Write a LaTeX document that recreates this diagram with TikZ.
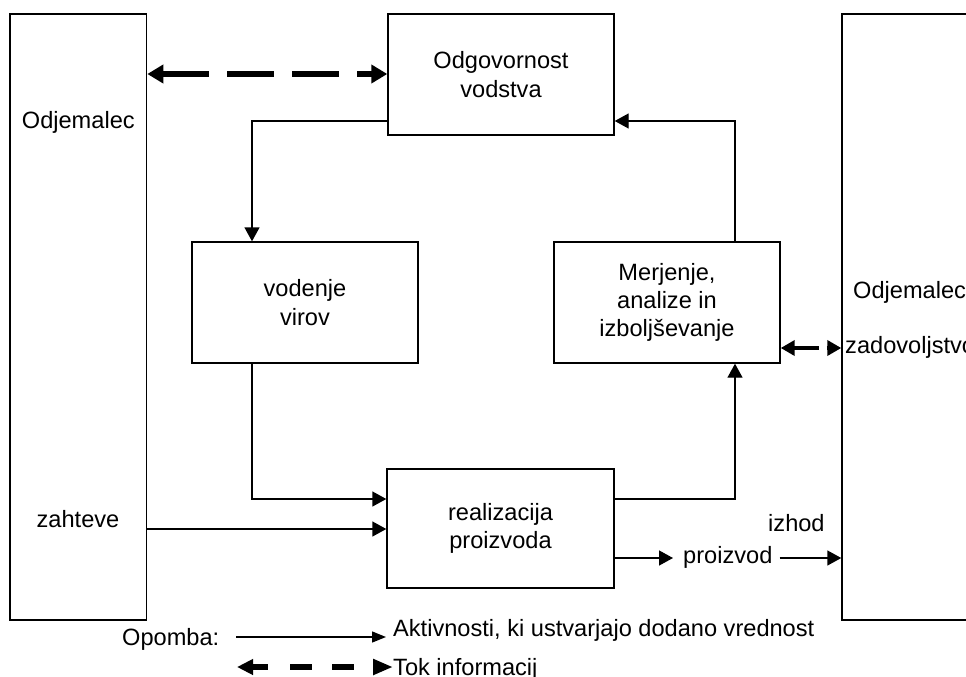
\documentclass[tikz,border=0pt]{standalone}
\usepackage{fontspec}
\setmainfont{Liberation Sans}
\usetikzlibrary{arrows.meta}
\newcommand\dfont{\fontsize{23.6pt}{28.3pt}\selectfont}
\begin{document}
\begin{tikzpicture}[x=1pt,y=-1pt,
  box/.style={draw, line width=1.4pt, inner sep=0pt, align=center, font=\dfont},
  midbox/.style={box, minimum width=226pt, minimum height=121pt},
  lbl/.style={inner sep=0pt, font=\dfont, anchor=base west},
  clbl/.style={inner sep=0pt, font=\dfont, anchor=base},
  arr/.style={line width=1.4pt, -{Triangle[length=14pt,width=15pt]}},
  info/.style={line width=5pt, {Triangle[length=16pt,width=18pt]}-{Triangle[length=16pt,width=18pt]}},
  infosmall/.style={line width=4.5pt, {Triangle[length=14pt,width=15pt]}-{Triangle[length=14pt,width=15pt]}},
]
\useasboundingbox (0,0) rectangle (966,677);
\clip (0,0) rectangle (966,677);
\fill[white] (0,0) rectangle (966,677);

% large customer boxes
\node[box, minimum width=136.7pt, minimum height=606pt] (L) at (78.3,317) {};
\node[box, minimum width=158pt, minimum height=606pt] (Rt) at (921,317) {};
\node[clbl] (odjL) at (78.3,128) {Odjemalec};
\node[clbl] (zah) at (78,527.3) {zahteve};
\node[lbl] (odjR) at (853,298) {Odjemalec};
\node[lbl] (zad) at (845,353) {zadovoljstvo};

% process boxes
\node[midbox] (O) at (501,74.5) {Odgovornost\\vodstva};
\node[midbox] (V) at (305,302.5) {vodenje\\virov};
\node[midbox] (M) at (667,302.5) {Merjenje,\\analize in\\izboljševanje};
\node[midbox, minimum width=227pt, minimum height=119pt] (R) at (500.5,528.5) {realizacija\\proizvoda};

% output labels
\node[lbl] (izh) at (768,531) {izhod};
\node[lbl] (pz) at (683,563) {proizvod};

% connectors
\draw[info, dash pattern=on 47pt off 18pt] (L.east |- 0,74) -- (O.west |- 0,74);
\draw[arr] (O.west |- 0,121) -| (V.north -| 252,0);
\draw[arr] (M.north -| 735,0) |- (O.east |- 0,121);
\draw[arr] (V.south -| 252,0) |- (R.west |- 0,499);
\draw[arr] (L.east |- 0,529) -- (R.west |- 0,529);
\draw[arr] (R.east |- 0,499) -| (M.south -| 735,0);
\draw[arr, shorten >=10pt] (R.east |- 0,558) -- (pz.west |- 0,558);
\draw[arr, shorten <=7pt] (pz.east |- 0,558) -- (Rt.west |- 0,558);
\draw[infosmall, dash pattern=on 25pt off 8pt] (M.east |- 0,348) -- (Rt.west |- 0,348);

% legend
\node[lbl] (op) at (122,645.5) {Opomba:};
\node[lbl] (akt) at (393,636) {Aktivnosti, ki ustvarjajo dodano vrednost};
\node[lbl] (tok) at (393,675) {Tok informacij};
\coordinate (l1) at (236,637);
\coordinate (l2) at (237,667);
\draw[line width=1.4pt, -{Triangle[length=14pt,width=11pt]}, shorten >=7pt] (l1) -- (akt.west |- 0,637);
\draw[line width=5.5pt, {Triangle[length=16pt,width=15pt]}-{Triangle[length=20pt,width=15pt]},
      dash pattern=on 16pt off 22pt on 22pt off 20pt on 22pt off 21pt] (l2) -- (tok.west |- 0,667);
\end{tikzpicture}
\end{document}
